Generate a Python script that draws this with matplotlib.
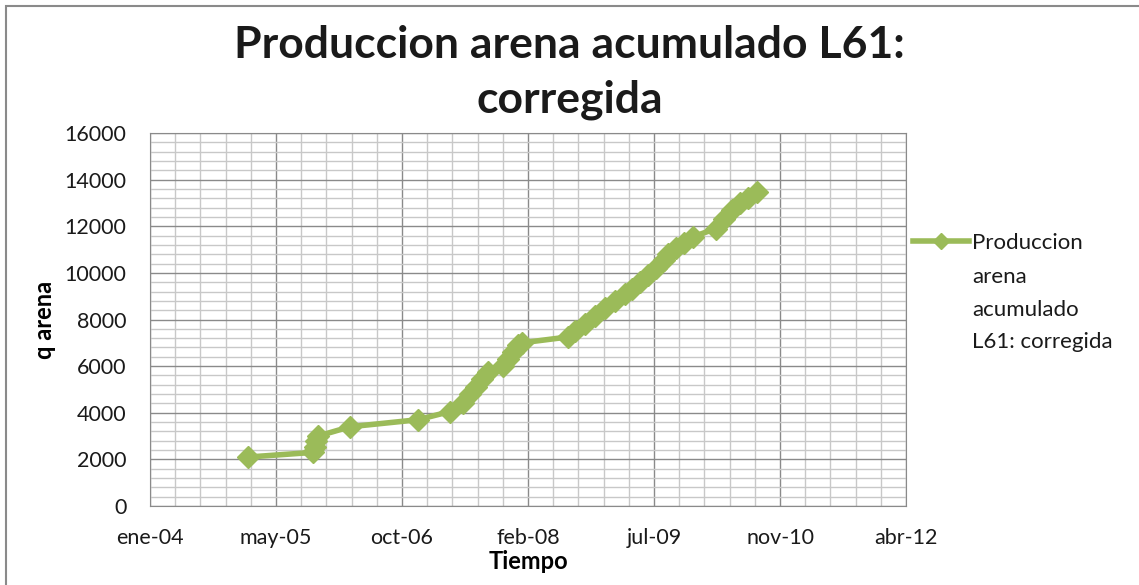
import numpy as np
import pandas as pd
import matplotlib
matplotlib.use("Agg")
import matplotlib.pyplot as plt
import matplotlib.dates as mdates
from matplotlib.ticker import MultipleLocator, FixedLocator
from matplotlib.lines import Line2D

# data
fechas = ["2005-02-06", "2005-10-22", "2005-10-30", "2005-11-03", "2005-11-11",
          "2006-03-18", "2006-12-12", "2007-04-18", "2007-06-09", "2007-07-07",
          "2007-07-31", "2007-08-23", "2007-09-16", "2007-11-15", "2007-12-05",
          "2007-12-24", "2008-01-13", "2008-01-29", "2008-07-30", "2008-08-27",
          "2008-10-05", "2008-11-14", "2008-12-24", "2009-02-01", "2009-03-13",
          "2009-04-10", "2009-05-11", "2009-06-12", "2009-07-14", "2009-08-15",
          "2009-08-31", "2009-10-01", "2009-11-02", "2009-12-08", "2010-03-09",
          "2010-04-10", "2010-05-12", "2010-06-12", "2010-07-14", "2010-08-19"]
q_arena = [2100, 2300, 2550, 2800, 3000,
           3400, 3700, 4050, 4400, 4800,
           5100, 5450, 5750, 6000, 6300,
           6600, 6900, 7000, 7250, 7500,
           7800, 8150, 8500, 8800, 9100,
           9300, 9600, 9900, 10200, 10550,
           10800, 11050, 11300, 11550, 11900,
           12300, 12700, 13000, 13200, 13450]
tick_labels = ["ene-04", "may-05", "oct-06", "feb-08", "jul-09", "nov-10", "abr-12"]
legend_lines = ["Produccion", "arena", "acumulado", "L61: corregida"]

x = mdates.date2num(pd.to_datetime(fechas))
x0 = mdates.date2num(pd.Timestamp("2004-01-14"))  # Excel serial 38000
major_ticks = x0 + 500 * np.arange(len(tick_labels))

verde = "#9BBB59"
fuente = ["Lato", "DejaVu Sans"]
plt.rcParams["font.family"] = fuente
plt.rcParams["text.color"] = "#1a1a1a"

W, H = 1139, 585
fig = plt.figure(figsize=(W / 100, H / 100), dpi=100)
ax = fig.add_axes([150 / W, 1 - 506 / H, 756 / W, 373 / H])

ax.plot(x, q_arena, color=verde, lw=4, marker="D", markersize=11.5,
        markeredgecolor=verde, zorder=3)

ax.set_xlim(major_ticks[0], major_ticks[-1])
ax.set_ylim(0, 16000)
ax.xaxis.set_major_locator(FixedLocator(major_ticks))
ax.xaxis.set_minor_locator(FixedLocator(x0 + 100 * np.arange(31)))
ax.set_xticklabels(tick_labels)
ax.yaxis.set_major_locator(MultipleLocator(2000))
ax.yaxis.set_minor_locator(MultipleLocator(400))

ax.grid(which="major", color="#8a8a8a", lw=1.0)
ax.grid(which="minor", color="#c8c8c8", lw=1.0)
ax.set_axisbelow(True)
ax.tick_params(which="both", length=0, colors="#1a1a1a", labelsize=15.5)
ax.tick_params(axis="x", pad=16)
ax.tick_params(axis="y", pad=17)
for s in ax.spines.values():
    s.set_color("#8a8a8a")

ax.set_xlabel("Tiempo", fontsize=17, fontweight="bold", labelpad=1)
ax.set_ylabel("q arena", fontsize=17, fontweight="bold", labelpad=6)

fig.text(0.5, 1 - 45 / H, "Produccion arena acumulado L61:", ha="center",
         va="center", fontsize=32, fontweight="bold")
fig.text(0.5, 1 - 100 / H, "corregida", ha="center", va="center",
         fontsize=32, fontweight="bold")

# legend: handle on the first line, label wrapped on four lines
handle = Line2D([], [], color=verde, lw=4, marker="D", markersize=8,
                markeredgecolor=verde)
ax.legend([handle], [legend_lines[0]], loc="center left",
          bbox_to_anchor=(913 / W, 1 - 243 / H), bbox_transform=fig.transFigure,
          frameon=False, borderpad=0, borderaxespad=0, handlelength=2.5,
          handletextpad=0.15, fontsize=16)
for i, t in enumerate(legend_lines[1:]):
    fig.text(972 / W, 1 - (283 + 32.7 * i) / H, t, ha="left", va="baseline",
             fontsize=16)

# outer chart border
fig.patches.append(plt.Rectangle((6 / W, -0.02), 1.1, 1 - 6 / H + 0.02,
                                 transform=fig.transFigure, fill=False,
                                 edgecolor="#8a8a8a", lw=1.5))

fig.savefig("out.png", dpi=100)
